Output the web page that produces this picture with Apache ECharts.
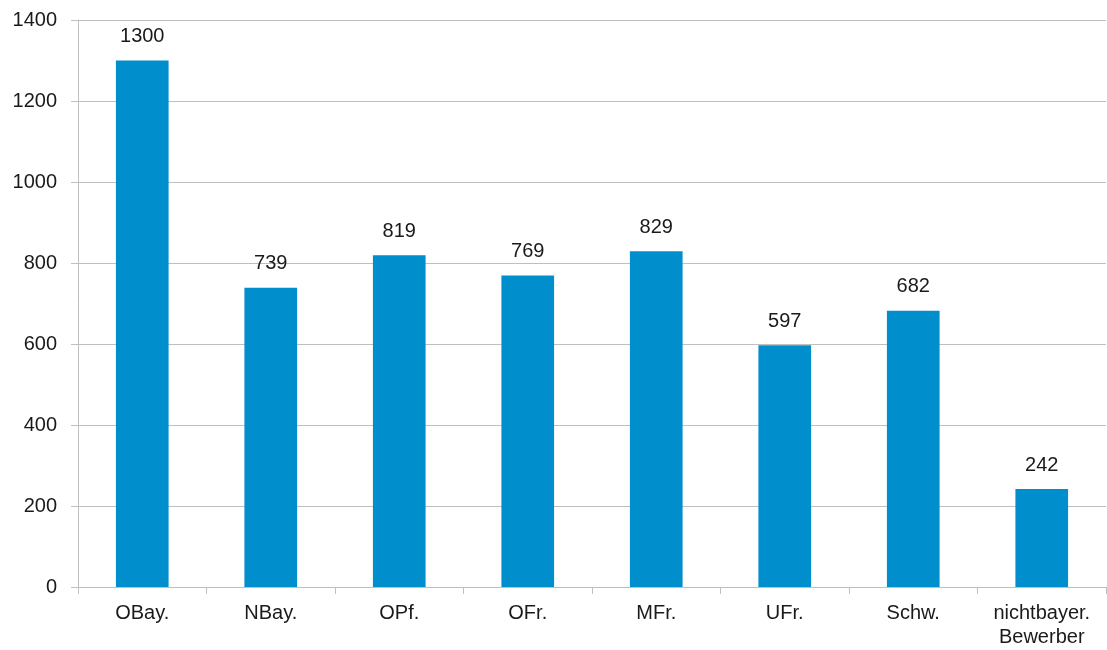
<!DOCTYPE html>
<html><head><meta charset="utf-8">
<script src="https://cdn.jsdelivr.net/npm/echarts@6/dist/echarts.min.js"></script>
<style>html,body{margin:0;padding:0;background:#fff}#c{width:1107px;height:650px}</style>
</head><body><div id="c"></div>
<script>
const categories = ['OBay.', 'NBay.', 'OPf.', 'OFr.', 'MFr.', 'UFr.', 'Schw.', 'nichtbayer.\nBewerber'];
const values = [1300, 739, 819, 769, 829, 597, 682, 242];
const chart = echarts.init(document.getElementById('c'));
const font = 'Liberation Sans, Arial, sans-serif';
chart.setOption({
  animation: false,
  grid: { left: 78, right: 1, top: 20, bottom: 63 },
  xAxis: {
    type: 'category', data: categories,
    axisLine: { lineStyle: { color: '#bfbfbf', width: 1 } },
    axisTick: { show: true, length: 7, lineStyle: { color: '#bfbfbf' } },
    axisLabel: { color: '#1a1a1a', fontSize: 20, fontFamily: font, margin: 14, lineHeight: 24 }
  },
  yAxis: {
    type: 'value', min: 0, max: 1400, interval: 200,
    axisLine: { show: true, lineStyle: { color: '#bfbfbf', width: 1 } },
    axisTick: { show: true, length: 7, lineStyle: { color: '#bfbfbf' } },
    splitLine: { lineStyle: { color: '#bfbfbf', width: 1 } },
    axisLabel: { color: '#1a1a1a', fontSize: 20, fontFamily: font, margin: 21, formatter: v => String(v) }
  },
  series: [{
    type: 'bar', data: values, barWidth: '41%',
    itemStyle: { color: '#008fcc' },
    label: { show: true, position: 'top', distance: 14, color: '#1a1a1a', fontSize: 20, fontFamily: font }
  }]
});
</script></body></html>
